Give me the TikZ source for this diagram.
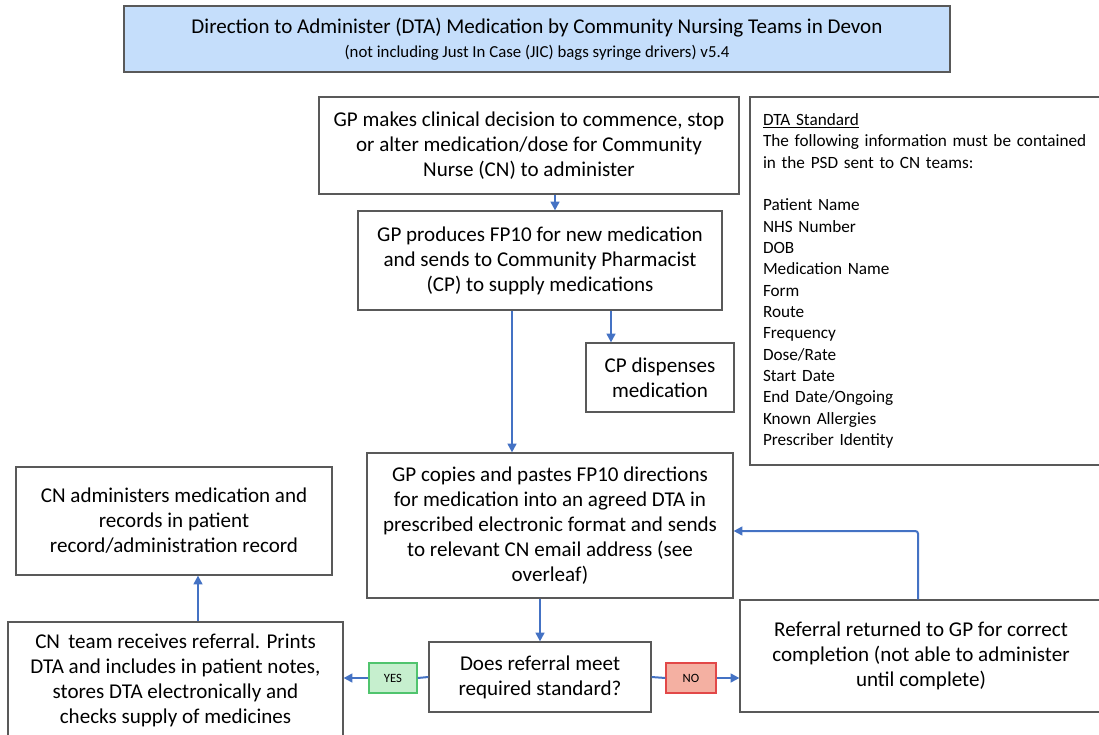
\documentclass[tikz,border=0pt]{standalone}
\usepackage{fontspec}
\setmainfont{Carlito}
\usetikzlibrary{arrows.meta}
\definecolor{boxgrey}{RGB}{89,89,89}
\definecolor{flowblue}{RGB}{68,114,196}
\definecolor{titlefill}{RGB}{197,222,251}
\definecolor{yesfill}{RGB}{198,239,206}
\definecolor{yesedge}{RGB}{80,196,110}
\definecolor{nofill}{RGB}{244,176,162}
\definecolor{noedge}{RGB}{226,72,72}
\tikzset{
	box/.style={draw=boxgrey, line width=0.9pt, align=center, inner sep=0pt, font=\fontsize{15.8}{18.75}\selectfont},
	flow/.style={draw=flowblue, line width=1.5pt, -{Triangle[length=6.5pt,width=6.5pt]}},
	flowline/.style={draw=flowblue, line width=1.5pt},
	tag/.style={draw, line width=0.9pt, inner sep=0pt, font=\fontsize{9.5}{11}\selectfont}
}

\begin{document}
\begin{tikzpicture}[x=0.75pt,y=-0.75pt]
		\useasboundingbox (0,0) rectangle (1099,735);
		\clip (0,0) rectangle (1099,735);
		
		\node (title) [box, fill=titlefill, minimum width=619.5pt, minimum height=49.5pt] at (537,39) {Direction to Administer (DTA) Medication by Community Nursing Teams in Devon\\[-1pt] {\fontsize{12.6}{14}\selectfont (not including Just In Case (JIC) bags syringe drivers) v5.4}};
		
		\node (gpdecide) [box, minimum width=315pt, minimum height=72.75pt] at (529,145.5) {GP makes clinical decision to commence, stop\\ or alter medication/dose for Community\\ Nurse (CN) to administer};
		\node (gpfp10) [box, minimum width=273pt, minimum height=74.25pt] at (540,260.5) {GP produces FP10 for new medication\\ and sends to Community Pharmacist\\ (CP) to supply medications};
		\node (cpdisp) [box, minimum width=111pt, minimum height=51.75pt] at (660,377.5) {CP dispenses\\ medication};
		\node (standard) [box, align=left, text width=244.5pt, inner xsep=9.75pt, minimum height=276pt, font=\fontsize{12.9}{16}\selectfont] at (926,281) {\underline{DTA Standard}\\ The following information must be contained\\ in the PSD sent to CN teams:\\[16pt] Patient Name\\ NHS Number\\ DOB\\ Medication Name\\ Form\\ Route\\ Frequency\\ Dose/Rate\\ Start Date\\ End Date/Ongoing\\ Known Allergies\\ Prescriber Identity};
		\node (gpcopy) [box, minimum width=274.5pt, minimum height=108.75pt] at (550,525.5) {GP copies and pastes FP10 directions\\ for medication into an agreed DTA in\\ prescribed electronic format and sends\\ to relevant CN email address (see\\ overleaf)};
		\node (cnadmin) [box, minimum width=237pt, minimum height=81pt] at (174,521) {CN administers medication and\\ records in patient\\ record/administration record};
		\node (cnteam) [box, minimum width=251.25pt, minimum height=87pt] at (175.5,680) {CN\, team receives referral. Prints\\ DTA and includes in patient notes,\\ stores DTA electronically and\\ checks supply of medicines};
		\node (doesref) [box, minimum width=166.5pt, minimum height=52.5pt] at (540,677) {Does referral meet\\ required standard?};
		\node (referral) [box, minimum width=271.5pt, minimum height=84pt] at (921,656) {Referral returned to GP for correct\\ completion (not able to administer\\ until complete)};
		\node (yes) [tag, draw=yesedge, fill=yesfill, minimum width=36pt, minimum height=22.5pt] at (393,678) {YES};
		\node (no) [tag, draw=noedge, fill=nofill, minimum width=37.5pt, minimum height=22.5pt] at (691,678) {NO};
		
		\coordinate (d1) at ([xshift=19.5pt]gpdecide.south);
		\draw[flow] (d1) -- (d1 |- gpfp10.north);
		\coordinate (p1) at ([xshift=53.25pt]gpfp10.south);
		\draw[flow] (p1) -- (p1 |- cpdisp.north);
		\coordinate (p2) at ([xshift=-21pt]gpfp10.south);
		\draw[flow] (p2) -- (p2 |- gpcopy.north);
		\draw[flow] (doesref.north |- gpcopy.south) -- (doesref.north);
		
		\draw[flowline] (doesref.west) -- (yes.east);
		\draw[flow] (yes.west) -- (yes.west -| cnteam.east);
		\draw[flowline] (doesref.east) -- (no.west);
		\draw[flow] (no.east) -- (no.east -| referral.west);
		
		\coordinate (r1) at ([xshift=-2.25pt]referral.north);
		\coordinate (c1) at ([yshift=-4.125pt]gpcopy.east);
		\draw[flow, rounded corners=2pt] (r1) |- (c1);
		\coordinate (t1) at ([xshift=16.875pt]cnteam.north);
		\draw[flow] (t1) -- (t1 |- cnadmin.south);
	\end{tikzpicture}
\end{document}
